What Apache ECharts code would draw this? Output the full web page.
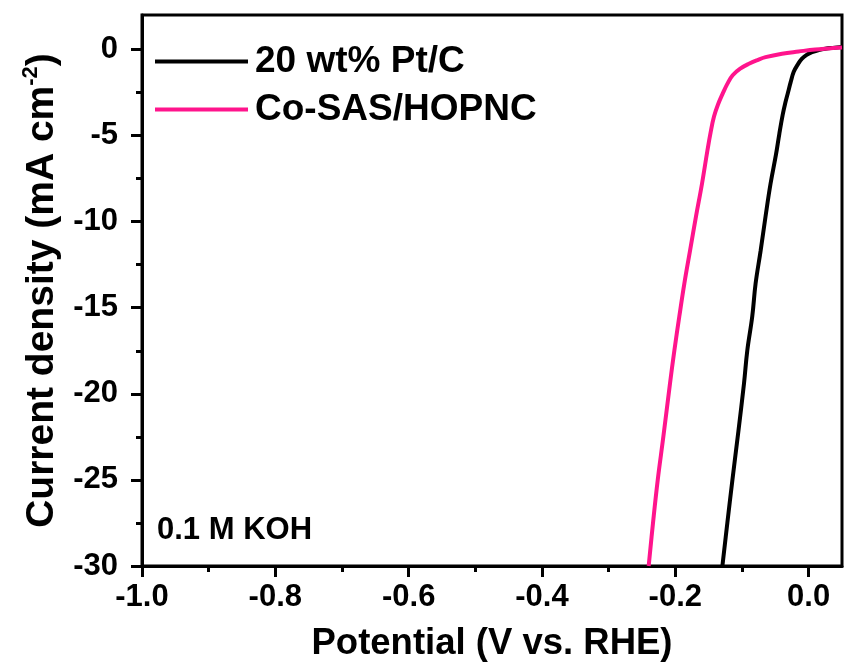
<!DOCTYPE html>
<html>
<head>
<meta charset="utf-8">
<script src="https://cdn.jsdelivr.net/npm/echarts@6/dist/echarts.min.js"></script>
<style>
  html, body { margin: 0; padding: 0; background: #fff; }
  #chart { width: 844px; height: 664px; }
</style>
</head>
<body>
<div id="chart"></div>
<script>
// LSV polarization curves, HER in 0.1 M KOH
const seriesNames = ['20 wt% Pt/C', 'Co-SAS/HOPNC'];
const seriesColors = ['#000000', '#ff148c'];

// [potential (V vs. RHE), current density (mA cm^-2)]
const ptcCurve = [
  [-0.1294, -30.0], [-0.122, -27.5], [-0.1144, -25.0], [-0.1055, -22.2], [-0.097, -19.4],
  [-0.0921, -17.5], [-0.0846, -15.5], [-0.0796, -13.6], [-0.0721, -11.7], [-0.0647, -9.7],
  [-0.0572, -7.8], [-0.049, -6.1], [-0.044, -4.9], [-0.039, -3.8], [-0.035, -3.1],
  [-0.031, -2.5], [-0.027, -1.9], [-0.0224, -1.3], [-0.016, -0.85], [-0.010, -0.54],
  [-0.003, -0.32], [0.005, -0.16], [0.015, -0.04], [0.025, 0.04], [0.036, 0.09], [0.050, 0.14]
];
const coSasCurve = [
  [-0.240, -30.0], [-0.2335, -27.5], [-0.2264, -25.0], [-0.218, -22.5], [-0.208, -19.4],
  [-0.2015, -17.5], [-0.194, -15.5], [-0.1865, -13.6], [-0.178, -11.7], [-0.169, -9.7],
  [-0.160, -7.8], [-0.152, -5.9], [-0.147, -4.8], [-0.142, -3.9], [-0.136, -3.2],
  [-0.129, -2.57], [-0.122, -2.0], [-0.114, -1.5], [-0.102, -1.1], [-0.0896, -0.83],
  [-0.077, -0.62], [-0.0647, -0.45], [-0.040, -0.25], [-0.015, -0.12], [0.010, 0.0],
  [0.030, 0.06], [0.050, 0.11]
];

// axis ranges and tick positions
const xRange = [-1.0, 0.05];
const yRange = [-30, 2];
const xMajorTicks = [-1.0, -0.8, -0.6, -0.4, -0.2, 0.0];
const xMinorTicks = [-0.9, -0.7, -0.5, -0.3, -0.1];
const yMajorTicks = [-30, -25, -20, -15, -10, -5, 0];
const yMinorTicks = [-27.5, -22.5, -17.5, -12.5, -7.5, -2.5];

const xTitle = 'Potential (V vs. RHE)';
const yTitle = 'Current density (mA cm{sup|-2})';
const note = '0.1 M KOH';

const FONT = '"Liberation Sans", Arial, sans-serif';
const chart = echarts.init(document.getElementById('chart'), null, { renderer: 'canvas' });

const grid = {
  left: 142, right: 2, top: 15, bottom: 98,
  outerBoundsMode: 'none', containLabel: false,
  show: true, borderColor: '#000', borderWidth: 3, backgroundColor: 'transparent'
};

const tickLabel = { color: '#000', fontFamily: FONT, fontWeight: 'bold', fontSize: 31 };

chart.setOption({
  animation: false,
  backgroundColor: '#fff',
  grid: grid,
  legend: {
    data: seriesNames,
    orient: 'vertical',
    left: 150,
    top: 38,
    itemWidth: 93,
    itemHeight: 14,
    itemGap: 11,
    icon: 'path://M0,6 L93,6 L93,10 L0,10 Z',
    textStyle: { color: '#000', fontFamily: FONT, fontWeight: 'bold', fontSize: 37, lineHeight: 36, padding: [0, 0, 0, 2] }
  },
  xAxis: [
    {
      type: 'value', min: xRange[0], max: xRange[1],
      name: xTitle, nameLocation: 'middle', nameGap: 59,
      nameTextStyle: { color: '#000', fontFamily: FONT, fontWeight: 'bold', fontSize: 36.5 },
      axisLine: { show: true, onZero: false, lineStyle: { color: '#000', width: 3 } },
      axisTick: { show: true, inside: false, length: 11, customValues: xMajorTicks, lineStyle: { color: '#000', width: 3 } },
      axisLabel: Object.assign({ margin: 16, customValues: xMajorTicks, formatter: v => v.toFixed(1) }, tickLabel),
      splitLine: { show: false }
    },
    {
      type: 'value', min: xRange[0], max: xRange[1], position: 'bottom',
      axisLine: { show: false, onZero: false },
      axisTick: { show: true, inside: false, length: 6, customValues: xMinorTicks, lineStyle: { color: '#000', width: 3 } },
      axisLabel: { show: false },
      splitLine: { show: false }
    }
  ],
  yAxis: [
    {
      type: 'value', min: yRange[0], max: yRange[1],
      name: yTitle, nameLocation: 'middle', nameGap: 78, nameRotate: 90,
      nameTextStyle: {
        color: '#000', fontFamily: FONT, fontWeight: 'bold', fontSize: 39,
        rich: { sup: { fontFamily: FONT, fontWeight: 'bold', fontSize: 22, verticalAlign: 'top', lineHeight: 44 } }
      },
      axisLine: { show: true, onZero: false, lineStyle: { color: '#000', width: 3 } },
      axisTick: { show: true, inside: false, length: 11, customValues: yMajorTicks, lineStyle: { color: '#000', width: 3 } },
      axisLabel: Object.assign({ margin: 24, customValues: yMajorTicks, formatter: v => String(v) }, tickLabel),
      splitLine: { show: false }
    },
    {
      type: 'value', min: yRange[0], max: yRange[1], position: 'left',
      axisLine: { show: false, onZero: false },
      axisTick: { show: true, inside: false, length: 6, customValues: yMinorTicks, lineStyle: { color: '#000', width: 3 } },
      axisLabel: { show: false },
      splitLine: { show: false }
    }
  ],
  graphic: [
    {
      type: 'text', left: 157, top: 515,
      style: { text: note, fill: '#000', font: 'bold 31px "Liberation Sans", Arial, sans-serif' }
    }
  ],
  series: [
    {
      name: seriesNames[0], type: 'line', data: ptcCurve, xAxisIndex: 0, yAxisIndex: 0,
      showSymbol: false, symbol: 'none', smooth: 0.4, clip: true,
      lineStyle: { color: seriesColors[0], width: 4 }, itemStyle: { color: seriesColors[0] }
    },
    {
      name: seriesNames[1], type: 'line', data: coSasCurve, xAxisIndex: 0, yAxisIndex: 0,
      showSymbol: false, symbol: 'none', smooth: 0.4, clip: true,
      lineStyle: { color: seriesColors[1], width: 4 }, itemStyle: { color: seriesColors[1] }
    }
  ]
});
</script>
</body>
</html>
